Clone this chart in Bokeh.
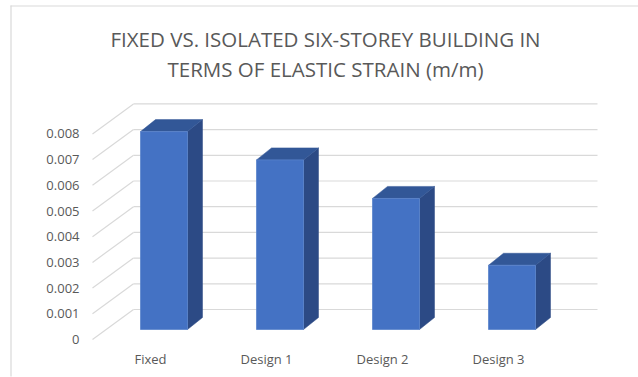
from bokeh.plotting import figure
from bokeh.models import Range1d
from bokeh.core.properties import value
from bokeh.embed import file_html
from bokeh.resources import INLINE

# ---- data ----
categories = ["Fixed", "Design 1", "Design 2", "Design 3"]
strain = [0.0077, 0.0066, 0.0051, 0.0025]
y_ticks = [0, 0.001, 0.002, 0.003, 0.004, 0.005, 0.006, 0.007, 0.008]
y_tick_labels = ["0", "0.001", "0.002", "0.003", "0.004", "0.005", "0.006", "0.007", "0.008"]
title_lines = ["FIXED VS. ISOLATED SIX-STOREY BUILDING IN", "TERMS OF ELASTIC STRAIN (m/m)"]

# ---- layout (pixels) ----
W, H = 638, 377
XU = 116.0      # px per category
YU = 25700.0    # px per unit strain
X0PX = 150.0    # px of category 0 on front plane
Y0PX = 339.0    # px of zero on front plane

x_start = -X0PX / XU
x_end = x_start + W / XU
y_end = Y0PX / YU
y_start = y_end - H / YU

def px2x(px):
    return x_start + px / XU

def px2y(py):
    return y_end - py / YU

# 3D geometry
WALL_DX, WALL_DY = 41 / XU, 30 / YU      # back wall offset
FRONT_DX, FRONT_DY = 13.5 / XU, 10 / YU  # bar front face offset
BAR_DX, BAR_DY = 15 / XU, 12 / YU        # bar depth
BAR_W = 47 / XU

GRID = "#D9D9D9"
TXT = "#595959"
FONT = "Open Sans"

p = figure(width=W, height=H, x_range=Range1d(x_start, x_end), y_range=Range1d(y_start, y_end),
           toolbar_location=None, output_backend="svg", title=None,
           x_axis_location=None, y_axis_location=None,
           min_border_left=0, min_border_top=0, min_border_right=0, min_border_bottom=0)
p.grid.visible = False
p.outline_line_color = None
p.background_fill_color = "white"
p.border_fill_color = "white"

# chart border (top and left only)
p.line([px2x(10), x_end], [px2y(5.5), px2y(5.5)], line_color=GRID, line_width=1.2)
p.line([px2x(10.5), px2x(10.5)], [px2y(5), px2y(376)], line_color=GRID, line_width=1.2)

n = len(categories)
left_front = -0.5
right_front = n - 0.5

# back wall gridlines and side diagonals
for t in y_ticks:
    p.line([left_front + WALL_DX, right_front + WALL_DX], [t + WALL_DY, t + WALL_DY],
           line_color=GRID, line_width=1.2)
    p.line([left_front, left_front + WALL_DX], [t, t + WALL_DY], line_color=GRID, line_width=1.2)

# bars
fx, fy, sx, sy, tx, ty = [], [], [], [], [], []
for i, v in enumerate(strain):
    xl = i + FRONT_DX - BAR_W / 2
    xr = i + FRONT_DX + BAR_W / 2
    y0 = FRONT_DY
    y1 = v + FRONT_DY
    fx.append([xl, xr, xr, xl]); fy.append([y0, y0, y1, y1])
    sx.append([xr, xr + BAR_DX, xr + BAR_DX, xr]); sy.append([y0, y0 + BAR_DY, y1 + BAR_DY, y1])
    tx.append([xl, xr, xr + BAR_DX, xl + BAR_DX]); ty.append([y1, y1, y1 + BAR_DY, y1 + BAR_DY])

p.patches(sx, sy, fill_color="#2C4A85", line_color="#2C4A85", line_width=0.5)
p.patches(tx, ty, fill_color="#325797", line_color="#325797", line_width=0.5)
p.patches(fx, fy, fill_color="#4472C4", line_color="#5B84CC", line_width=0.8)

# y tick labels
p.text([px2x(79)] * len(y_ticks), y_ticks, text=y_tick_labels, text_align="right",
       text_baseline="middle", text_font=value(FONT), text_font_size="13px", text_color=TXT)

# category labels
p.text(list(range(n)), [px2y(358)] * n, text=categories, text_align="center",
       text_baseline="middle", text_font=value(FONT), text_font_size="13px", text_color=TXT)

# title
p.text([px2x(325)] * 2, [px2y(38), px2y(68)], text=title_lines, text_align="center",
       text_baseline="middle", text_font=value(FONT), text_font_size="20.5px", text_color=TXT)

open("out.html", "w").write(file_html(p, INLINE))
